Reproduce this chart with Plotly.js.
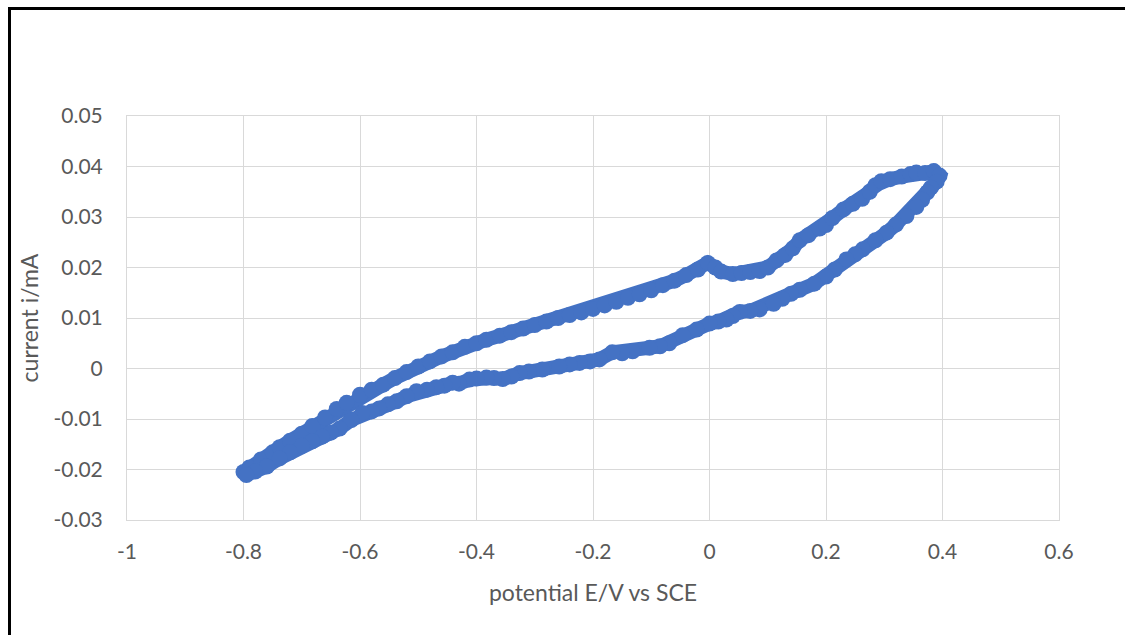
<!DOCTYPE html>
<html>
<head>
<meta charset="utf-8">
<script src="https://cdn.plot.ly/plotly-3.0.1.min.js"></script>
<style>
  html, body { margin: 0; padding: 0; background: #ffffff; }
  #wrap { position: relative; width: 1125px; height: 635px; overflow: hidden; }
  #chart { position: absolute; left: 0; top: 0; width: 1125px; height: 635px; }
  #frame { position: absolute; left: 8px; top: 7px; width: 1130px; height: 640px;
           border-left: 3px solid #000; border-top: 3px solid #000; pointer-events: none; }
</style>
</head>
<body>
<div id="wrap">
  <div id="chart"></div>
  <div id="frame"></div>
</div>
<script>
// Cyclic voltammogram: forward sweep -0.8 V -> 0.4 V, then reverse sweep back to -0.8 V
const potential = [
  -0.800, -0.790, -0.770, -0.750, -0.738, -0.720, -0.700, -0.682, -0.660, -0.640,
  -0.623, -0.600, -0.580, -0.560, -0.540, -0.520, -0.500, -0.480, -0.460, -0.441,
  -0.420, -0.400, -0.383, -0.360, -0.340, -0.320, -0.300, -0.280, -0.260, -0.240,
  -0.220, -0.200, -0.180, -0.160, -0.140, -0.120, -0.100, -0.080, -0.060, -0.040,
  -0.020, -0.003, 0.010, 0.020, 0.040, 0.055, 0.070, 0.086, 0.100, 0.115,
  0.130, 0.143, 0.155, 0.170, 0.189, 0.200, 0.211, 0.230, 0.246, 0.262,
  0.275, 0.285, 0.295, 0.310, 0.330, 0.345, 0.355, 0.370, 0.385, 0.395,
  0.390, 0.380, 0.374, 0.365, 0.355, 0.338, 0.320, 0.304, 0.285, 0.263,
  0.250, 0.235, 0.215, 0.200, 0.180, 0.155, 0.140, 0.125, 0.110, 0.086,
  0.070, 0.052, 0.040, 0.029, 0.015, 0.000, -0.022, -0.046, -0.069, -0.085,
  -0.103, -0.132, -0.150, -0.167, -0.189, -0.205, -0.223, -0.240, -0.258, -0.287,
  -0.310, -0.326, -0.340, -0.355, -0.370, -0.383, -0.400, -0.412, -0.430, -0.441,
  -0.455, -0.469, -0.485, -0.503, -0.520, -0.537, -0.552, -0.567, -0.580, -0.596,
  -0.615, -0.635, -0.650, -0.665, -0.682, -0.700, -0.720, -0.738, -0.760, -0.780,
  -0.795
];
const current = [
  -0.0205, -0.0196, -0.0180, -0.0166, -0.0156, -0.0143, -0.0129, -0.0114, -0.0097, -0.0080,
  -0.0068, -0.0052, -0.0042, -0.0032, -0.0019, -0.0007, 0.0004, 0.0014, 0.0024, 0.0032,
  0.0043, 0.0050, 0.0057, 0.0065, 0.0072, 0.0079, 0.0086, 0.0093, 0.0100, 0.0106,
  0.0111, 0.0118, 0.0125, 0.0132, 0.0140, 0.0147, 0.0155, 0.0165, 0.0174, 0.0185,
  0.0196, 0.0209, 0.0200, 0.0192, 0.0187, 0.0189, 0.0191, 0.0193, 0.0200, 0.0214,
  0.0225, 0.0238, 0.0254, 0.0264, 0.0277, 0.0284, 0.0298, 0.0315, 0.0326, 0.0336,
  0.0350, 0.0363, 0.0371, 0.0375, 0.0380, 0.0385, 0.0388, 0.0387, 0.0391, 0.0382,
  0.0370, 0.0358, 0.0349, 0.0334, 0.0320, 0.0302, 0.0285, 0.0269, 0.0254, 0.0236,
  0.0226, 0.0216, 0.0196, 0.0182, 0.0168, 0.0156, 0.0148, 0.0138, 0.0128, 0.0117,
  0.0114, 0.0112, 0.0104, 0.0097, 0.0093, 0.0089, 0.0077, 0.0066, 0.0050, 0.0044,
  0.0041, 0.0034, 0.0030, 0.0032, 0.0018, 0.0014, 0.0011, 0.0008, 0.0004, -0.0002,
  -0.0006, -0.0009, -0.0016, -0.0021, -0.0019, -0.0018, -0.0020, -0.0022, -0.0030, -0.0028,
  -0.0034, -0.0037, -0.0042, -0.0045, -0.0055, -0.0065, -0.0071, -0.0079, -0.0085, -0.0088,
  -0.0102, -0.0119, -0.0127, -0.0135, -0.0144, -0.0153, -0.0166, -0.0178, -0.0194, -0.0204,
  -0.0211
];

const xTicks = [-1, -0.8, -0.6, -0.4, -0.2, 0, 0.2, 0.4, 0.6];
const yTicks = [-0.03, -0.02, -0.01, 0, 0.01, 0.02, 0.03, 0.04, 0.05];

const blue = '#4472c4';
const textGray = '#595959';
const gridGray = '#d9d9d9';
const font = "Lato, 'Open Sans', sans-serif";

const trace = {
  x: potential,
  y: current,
  type: 'scatter',
  mode: 'lines+markers',
  line: { color: blue, width: 14, shape: 'linear' },
  marker: { color: blue, size: 16 },
  hoverinfo: 'x+y',
  showlegend: false
};

const layout = {
  width: 1125,
  height: 635,
  margin: { l: 127, r: 66, t: 116, b: 115 },
  paper_bgcolor: '#ffffff',
  plot_bgcolor: '#ffffff',
  font: { family: font, size: 21, color: textGray },
  xaxis: {
    range: [-1, 0.6],
    tickvals: xTicks,
    ticktext: xTicks.map(String),
    showgrid: true,
    gridcolor: gridGray,
    gridwidth: 1,
    zeroline: false,
    showline: true,
    linecolor: gridGray,
    linewidth: 1,
    mirror: true,
    ticks: '',
    ticklabelstandoff: 13,
    tickfont: { family: font, size: 21, color: textGray },
    title: { text: 'potential E/V vs SCE', font: { family: font, size: 23, color: textGray }, standoff: 22 }
  },
  yaxis: {
    range: [-0.03, 0.05],
    tickvals: yTicks,
    ticktext: yTicks.map(String),
    showgrid: true,
    gridcolor: gridGray,
    gridwidth: 1,
    zeroline: false,
    showline: true,
    linecolor: gridGray,
    linewidth: 1,
    mirror: true,
    ticks: '',
    ticklabelstandoff: 19,
    tickfont: { family: font, size: 21, color: textGray },
    title: { text: 'current i/mA', font: { family: font, size: 23, color: textGray }, standoff: 8 }
  }
};

Plotly.newPlot('chart', [trace], layout, { displayModeBar: false, staticPlot: true });
</script>
</body>
</html>
